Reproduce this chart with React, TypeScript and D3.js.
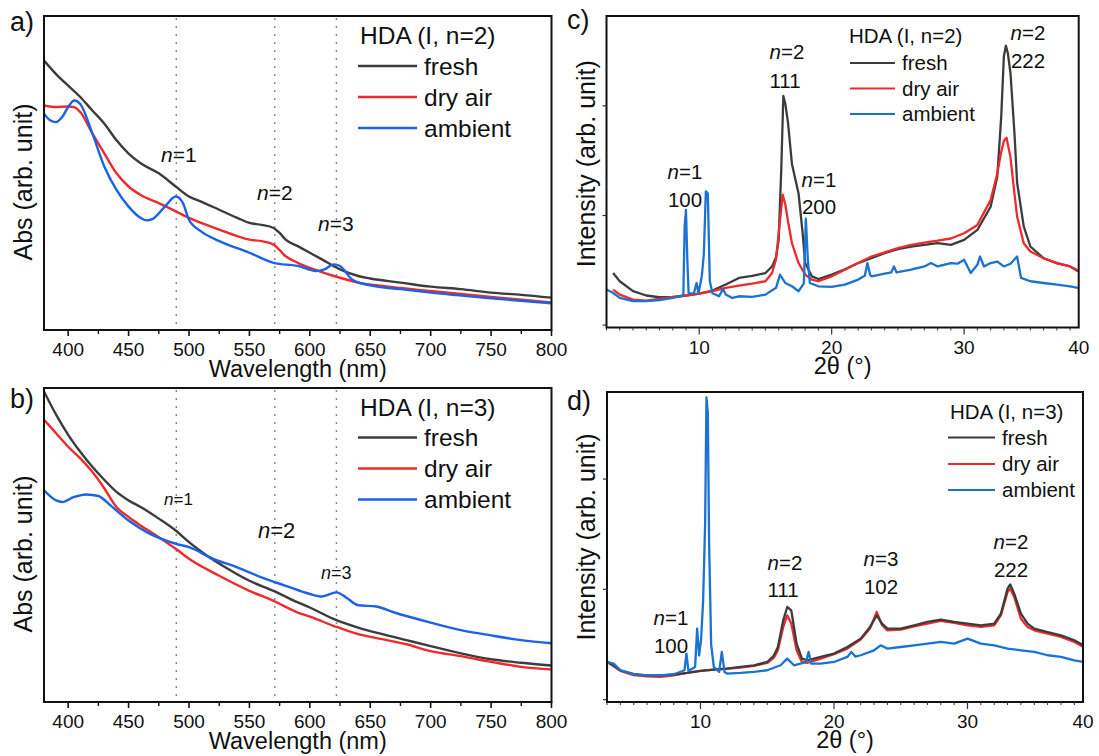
import React from 'react';
import * as d3 from 'd3';

type Pt = [number, number];

// ---------- Panel a: UV-vis, HDA (I, n=2) ----------
const aFresh: Pt[] = [[380,0.858],[390,0.815],[400,0.778],[410,0.742],[420,0.699],[430,0.657],[440,0.604],[450,0.562],[460,0.531],[475,0.499],[489,0.457],[500,0.425],[510,0.409],[525,0.383],[540,0.357],[550,0.341],[560,0.335],[570,0.325],[575,0.309],[580,0.288],[590,0.267],[600,0.246],[610,0.225],[625,0.193],[640,0.172],[650,0.164],[675,0.151],[700,0.138],[725,0.130],[750,0.119],[775,0.112],[800,0.103]];
const aDry: Pt[] = [[380,0.715],[390,0.710],[400,0.712],[405,0.710],[410,0.694],[420,0.626],[430,0.562],[440,0.499],[450,0.457],[460,0.430],[475,0.404],[489,0.378],[500,0.357],[525,0.320],[540,0.299],[550,0.288],[560,0.283],[570,0.272],[580,0.235],[590,0.214],[600,0.198],[620,0.172],[640,0.151],[660,0.140],[700,0.124],[750,0.105],[800,0.088]];
const aAmbient: Pt[] = [[380,0.689],[385,0.668],[390,0.662],[395,0.678],[400,0.710],[405,0.731],[410,0.720],[420,0.626],[430,0.520],[440,0.446],[450,0.393],[460,0.357],[465,0.349],[470,0.354],[480,0.393],[489,0.425],[495,0.404],[500,0.351],[510,0.314],[525,0.283],[550,0.246],[570,0.214],[590,0.204],[605,0.188],[612,0.193],[620,0.209],[625,0.204],[635,0.161],[650,0.142],[675,0.130],[700,0.119],[750,0.101],[800,0.085]];

// ---------- Panel b: UV-vis, HDA (I, n=3) ----------
const bFresh: Pt[] = [[380,0.989],[390,0.915],[400,0.851],[410,0.797],[420,0.749],[430,0.707],[440,0.669],[450,0.642],[460,0.621],[475,0.584],[489,0.546],[500,0.509],[515,0.466],[530,0.429],[550,0.386],[570,0.354],[590,0.317],[600,0.301],[620,0.264],[640,0.237],[660,0.216],[680,0.197],[700,0.178],[725,0.155],[750,0.136],[775,0.125],[800,0.116]];
const bDry: Pt[] = [[380,0.899],[390,0.856],[400,0.813],[410,0.776],[420,0.733],[430,0.680],[440,0.621],[450,0.589],[460,0.562],[475,0.525],[489,0.488],[500,0.456],[525,0.402],[550,0.354],[570,0.322],[590,0.285],[600,0.272],[620,0.242],[640,0.216],[660,0.200],[680,0.184],[700,0.162],[725,0.146],[750,0.128],[775,0.112],[800,0.104]];
const bAmbient: Pt[] = [[380,0.674],[390,0.642],[395,0.637],[405,0.653],[415,0.661],[425,0.656],[435,0.626],[450,0.578],[465,0.541],[489,0.504],[500,0.493],[520,0.456],[540,0.429],[560,0.397],[580,0.370],[600,0.344],[610,0.336],[622,0.349],[630,0.333],[640,0.308],[655,0.304],[670,0.285],[700,0.253],[725,0.229],[750,0.212],[775,0.197],[800,0.187]];

// ---------- Panel c: XRD, HDA (I, n=2) ----------
const cFresh: Pt[] = [[3.5,0.475],[4,0.40],[5,0.31],[6,0.27],[7,0.254],[8,0.254],[9,0.27],[10,0.287],[11,0.315],[12,0.37],[13,0.43],[14,0.45],[15,0.475],[15.5,0.535],[15.8,0.62],[16,0.78],[16.2,1.44],[16.35,2.09],[16.5,2.02],[16.7,1.85],[17,1.47],[17.5,1.20],[17.8,0.85],[18,0.566],[18.5,0.445],[19,0.42],[20,0.46],[21,0.51],[22,0.566],[23,0.61],[24,0.657],[25,0.693],[26,0.717],[27,0.732],[28,0.747],[29,0.732],[30,0.778],[31,0.868],[32,1.08],[32.5,1.35],[32.8,1.9],[33,2.45],[33.15,2.55],[33.3,2.48],[33.5,2.30],[33.8,1.75],[34,1.30],[34.5,0.90],[35,0.717],[36,0.61],[37,0.566],[38,0.535],[38.6,0.49]];
const cDry: Pt[] = [[3.5,0.324],[4,0.278],[5,0.233],[6,0.224],[7,0.24],[8,0.257],[9,0.27],[10,0.287],[11,0.309],[12,0.339],[13,0.36],[14,0.378],[15,0.40],[15.5,0.475],[15.8,0.6],[16,0.838],[16.3,1.19],[16.5,1.10],[16.7,0.95],[17,0.747],[17.5,0.566],[18,0.46],[18.5,0.415],[19,0.40],[20,0.445],[21,0.505],[22,0.566],[23,0.626],[24,0.663],[25,0.702],[26,0.732],[27,0.753],[28,0.77],[29,0.79],[30,0.838],[31,0.914],[32,1.14],[32.5,1.38],[32.8,1.58],[33,1.68],[33.2,1.71],[33.5,1.53],[33.8,1.2],[34,0.99],[34.5,0.747],[35,0.672],[36,0.61],[37,0.566],[38,0.535],[38.6,0.50]];
const cAmbient: Pt[] = [[3,0.324],[3.5,0.293],[4,0.248],[5,0.218],[6,0.218],[7,0.227],[8,0.248],[8.8,0.27],[8.9,0.9],[9.0,1.05],[9.1,0.6],[9.2,0.29],[9.6,0.29],[9.8,0.384],[9.95,0.29],[10.2,0.45],[10.35,0.65],[10.5,1.22],[10.65,1.2],[10.8,0.4],[11,0.29],[11.5,0.263],[11.8,0.33],[12,0.28],[12.5,0.248],[13,0.263],[14,0.257],[15,0.278],[15.8,0.34],[16.1,0.46],[16.5,0.384],[17,0.354],[17.5,0.309],[17.9,0.38],[18.05,0.97],[18.2,0.6],[18.35,0.384],[19,0.354],[20,0.348],[21,0.369],[22,0.415],[22.5,0.45],[22.7,0.566],[22.9,0.46],[23,0.445],[24,0.469],[24.5,0.48],[24.7,0.536],[24.9,0.48],[26,0.505],[27,0.535],[27.5,0.566],[28,0.535],[29,0.566],[29.5,0.56],[30,0.596],[30.5,0.475],[31,0.55],[31.2,0.626],[31.5,0.535],[32,0.566],[32.5,0.58],[33,0.535],[33.5,0.56],[34,0.626],[34.3,0.43],[35,0.40],[36,0.384],[37,0.369],[38,0.354],[38.6,0.339]];

// ---------- Panel d: XRD, HDA (I, n=3) ----------
const dFresh: Pt[] = [[3,0.341],[3.5,0.311],[4,0.266],[5,0.23],[6,0.22],[7,0.22],[8,0.227],[9,0.242],[10,0.26],[11,0.272],[12,0.281],[13,0.296],[14,0.311],[15,0.341],[15.5,0.40],[15.8,0.477],[16.2,0.719],[16.5,0.84],[16.8,0.81],[17.2,0.508],[17.6,0.372],[18,0.356],[19,0.387],[20,0.417],[21,0.477],[22,0.553],[22.7,0.659],[23.2,0.764],[23.6,0.689],[24,0.644],[25,0.644],[26,0.674],[27,0.704],[28,0.725],[29,0.704],[30,0.689],[31,0.674],[32,0.689],[32.5,0.779],[33,1.006],[33.2,1.045],[33.5,0.961],[34,0.779],[34.5,0.689],[35,0.644],[36,0.613],[37,0.583],[38,0.538],[38.7,0.492]];
const dDry: Pt[] = [[3,0.341],[4,0.26],[5,0.221],[6,0.211],[7,0.205],[8,0.22],[9,0.242],[10,0.26],[11,0.272],[12,0.281],[13,0.29],[14,0.305],[15,0.332],[15.5,0.38],[15.8,0.447],[16.2,0.659],[16.5,0.764],[16.8,0.689],[17.2,0.447],[17.6,0.341],[18,0.332],[19,0.372],[20,0.411],[21,0.462],[22,0.544],[22.7,0.644],[23.2,0.795],[23.6,0.674],[24,0.628],[25,0.634],[26,0.665],[27,0.689],[28,0.713],[29,0.695],[30,0.674],[31,0.659],[32,0.674],[32.5,0.764],[33,0.976],[33.2,1.006],[33.5,0.93],[34,0.734],[34.5,0.659],[35,0.628],[36,0.598],[37,0.568],[38,0.523],[38.7,0.477]];
const dAmbient: Pt[] = [[3,0.341],[3.5,0.326],[4,0.266],[5,0.23],[6,0.22],[7,0.22],[8,0.23],[8.8,0.266],[8.95,0.417],[9.1,0.26],[9.6,0.296],[9.75,0.644],[9.9,0.40],[10.05,0.55],[10.2,0.9],[10.35,1.6],[10.45,2.74],[10.55,2.6],[10.65,1.4],[10.8,0.5],[11,0.296],[11.4,0.251],[11.6,0.432],[11.8,0.251],[12,0.236],[13,0.242],[14,0.251],[15,0.266],[16,0.311],[16.5,0.372],[17,0.311],[17.9,0.34],[18.1,0.432],[18.3,0.326],[19,0.326],[20,0.341],[21,0.387],[21.3,0.432],[21.6,0.39],[22,0.402],[23,0.447],[23.5,0.492],[24,0.462],[25,0.477],[26,0.492],[27,0.508],[28,0.523],[29,0.508],[30,0.553],[31,0.508],[32,0.492],[33,0.462],[34,0.447],[35,0.432],[36,0.402],[37,0.387],[38,0.356],[38.7,0.341]];

// ---------- Axes / labels ----------
const uvMajorTicks = [400, 450, 500, 550, 600, 650, 700, 750, 800];
const uvMinorTicks = [425, 475, 525, 575, 625, 675, 725, 775];
const excitonLines = [489.5, 571, 622];
const xrdMajorTicks = [10, 20, 30, 40];
const xrdMinorTicks = [3,4,5,6,7,8,9,11,12,13,14,15,16,17,18,19,21,22,23,24,25,26,27,28,29,31,32,33,34,35,36,37,38];
const xrdYTicks = [0, 1, 2];
const seriesNames = ['fresh', 'dry air', 'ambient'];
const legendTitles = ['HDA (I, n=2)', 'HDA (I, n=3)'];

const FONT = '"Liberation Sans", Arial, Helvetica, sans-serif';
const C_FRESH = '#3c3c3c';
const C_DRY = '#ef2a2a';
const C_AMB_UV = '#1c62e6';
const C_AMB_X = '#1a72d2';

interface Frame { left: number; right: number; top: number; bottom: number }
interface Annot { n: string; sub?: string; x: number; y: number; size: number; anchor?: string }
interface Legend { titleX: number; titleY: number; rows: number[]; lx0: number; lx1: number; tx: number; size: number; title: string }

function NLabel({ a }: { a: Annot }) {
  return (
    <text x={a.x} y={a.y} fontSize={a.size} textAnchor={a.anchor || 'start'} fontFamily={FONT} fill="#111">
      <tspan fontStyle="italic">n</tspan>
      <tspan>{'=' + a.n}</tspan>
    </text>
  );
}

function LegendBlock({ lg, colors, lw }: { lg: Legend; colors: string[]; lw: number }) {
  return (
    <g fontFamily={FONT} fill="#111">
      <text x={lg.titleX} y={lg.titleY} fontSize={lg.size}>{lg.title}</text>
      {seriesNames.map((s, i) => (
        <g key={s}>
          <line x1={lg.lx0} x2={lg.lx1} y1={lg.rows[i]} y2={lg.rows[i]} stroke={colors[i]} strokeWidth={lw} />
          <text x={lg.tx} y={lg.rows[i]} dy="0.36em" fontSize={lg.size}>{s}</text>
        </g>
      ))}
    </g>
  );
}

function UVPanel({ f, id, letter, letterY, series, legend, annots, titleShift }: {
  f: Frame; id: string; letter: string; letterY: number; series: Pt[][]; legend: Legend; annots: Annot[]; titleShift: number;
}) {
  const x = d3.scaleLinear().domain([380, 800]).range([f.left, f.right]);
  const y = d3.scaleLinear().domain([0, 1]).range([f.bottom, f.top]);
  const line = d3.line<Pt>().x(d => x(d[0])).y(d => y(d[1])).curve(d3.curveMonotoneX);
  const colors = [C_FRESH, C_DRY, C_AMB_UV];
  const cy = (f.top + f.bottom) / 2 + titleShift;
  return (
    <g>
      <defs>
        <clipPath id={id}><rect x={f.left} y={f.top} width={f.right - f.left} height={f.bottom - f.top} /></clipPath>
      </defs>
      {excitonLines.map(v => (
        <line key={v} x1={x(v)} x2={x(v)} y1={f.top + 2} y2={f.bottom} stroke="#888" strokeWidth={1.4} strokeDasharray="2 6" />
      ))}
      <g clipPath={`url(#${id})`}>
        {series.map((s, i) => (
          <path key={i} d={line(s) || ''} fill="none" stroke={colors[i]} strokeWidth={2.4} strokeLinejoin="round" />
        ))}
      </g>
      <rect x={f.left} y={f.top} width={f.right - f.left} height={f.bottom - f.top} fill="none" stroke="#111" strokeWidth={2} />
      {uvMajorTicks.map(t => (
        <g key={t}>
          <line x1={x(t)} x2={x(t)} y1={f.bottom} y2={f.bottom + 6} stroke="#111" strokeWidth={1.6} />
          <text x={x(t)} y={f.bottom + 26} textAnchor="middle" fontSize={19} fontFamily={FONT} fill="#111">{t}</text>
        </g>
      ))}
      {uvMinorTicks.map(t => (
        <line key={t} x1={x(t)} x2={x(t)} y1={f.bottom} y2={f.bottom + 4} stroke="#111" strokeWidth={1.4} />
      ))}
      <text x={(f.left + f.right) / 2} y={f.bottom + 47} textAnchor="middle" fontSize={23.5} fontFamily={FONT} fill="#111">Wavelength (nm)</text>
      <text transform={`translate(32,${cy}) rotate(-90)`} textAnchor="middle" fontSize={25} fontFamily={FONT} fill="#111">Abs (arb. unit)</text>
      <text x={10} y={letterY} fontSize={27} fontFamily={FONT} fill="#111">{letter}</text>
      <LegendBlock lg={legend} colors={colors} lw={2.5} />
      {annots.map((a, i) => <NLabel key={i} a={a} />)}
    </g>
  );
}

function XRDPanel({ f, id, letter, letterY, series, order, yTop, legend, annots, titleShift }: {
  f: Frame; id: string; letter: string; letterY: number; series: Pt[][]; order: number[]; yTop: number; legend: Legend; annots: Annot[]; titleShift: number;
}) {
  const x = d3.scaleLinear().domain([3, 38.65]).range([f.left, f.right]);
  const xl = d3.scaleLinear().domain([3, 38.65]).range([f.left, f.right]).clamp(true);
  const y = d3.scaleLinear().domain([-0.022, yTop]).range([f.bottom, f.top]);
  const line = d3.line<Pt>().x(d => x(d[0])).y(d => y(d[1])).curve(d3.curveLinear);
  const colors = [C_FRESH, C_DRY, C_AMB_X];
  const cy = (f.top + f.bottom) / 2 + titleShift;
  return (
    <g>
      <defs>
        <clipPath id={id}><rect x={f.left} y={f.top} width={f.right - f.left} height={f.bottom - f.top} /></clipPath>
      </defs>
      <g clipPath={`url(#${id})`}>
        {order.map(i => (
          <path key={i} d={line(series[i]) || ''} fill="none" stroke={colors[i]} strokeWidth={2.3} strokeLinejoin="round" />
        ))}
      </g>
      <rect x={f.left} y={f.top} width={f.right - f.left} height={f.bottom - f.top} fill="none" stroke="#111" strokeWidth={2} />
      {xrdMinorTicks.map(t => (
        <line key={t} x1={x(t)} x2={x(t)} y1={f.bottom} y2={f.bottom + 3} stroke="#333" strokeWidth={1} />
      ))}
      {xrdMajorTicks.map(t => (
        <g key={t}>
          {t < 38.65 && <line x1={x(t)} x2={x(t)} y1={f.bottom} y2={f.bottom + 7} stroke="#333" strokeWidth={1.2} />}
          <text x={xl(t)} y={f.bottom + 26} textAnchor="middle" fontSize={19} fontFamily={FONT} fill="#111">{t}</text>
        </g>
      ))}
      {xrdYTicks.map(t => (
        <line key={t} x1={f.left - 4} x2={f.left} y1={y(t)} y2={y(t)} stroke="#333" strokeWidth={1.2} />
      ))}
      <text x={(f.left + f.right) / 2} y={f.bottom + 46} textAnchor="middle" fontSize={23.5} fontFamily={FONT} fill="#111">2θ (°)</text>
      <text transform={`translate(595,${cy}) rotate(-90)`} textAnchor="middle" fontSize={25} fontFamily={FONT} fill="#111">Intensity (arb. unit)</text>
      <text x={567} y={letterY} fontSize={27} fontFamily={FONT} fill="#111">{letter}</text>
      <LegendBlock lg={legend} colors={colors} lw={2.2} />
      {annots.map((a, i) => (
        a.sub !== undefined
          ? <text key={i} x={a.x} y={a.y} fontSize={a.size} textAnchor="middle" fontFamily={FONT} fill="#111">{a.sub}</text>
          : <NLabel key={i} a={a} />
      ))}
    </g>
  );
}

export default function App() {
  const fa: Frame = { left: 44, right: 551.5, top: 16, bottom: 330 };
  const fb: Frame = { left: 44, right: 551.5, top: 388, bottom: 702 };
  const fc: Frame = { left: 606.5, right: 1078.7, top: 16, bottom: 327.5 };
  const fd: Frame = { left: 607, right: 1083, top: 392, bottom: 702 };

  const lgA: Legend = { title: legendTitles[0], titleX: 360, titleY: 44, rows: [66, 97, 128], lx0: 358, lx1: 417, tx: 424, size: 24.5 };
  const lgB: Legend = { title: legendTitles[1], titleX: 360, titleY: 416, rows: [437.5, 468.5, 499.5], lx0: 358, lx1: 417, tx: 424, size: 24.5 };
  const lgC: Legend = { title: legendTitles[0], titleX: 849, titleY: 43, rows: [63, 88.5, 114], lx0: 850, lx1: 895, tx: 902, size: 20.5 };
  const lgD: Legend = { title: legendTitles[1], titleX: 950, titleY: 419, rows: [437.5, 464, 490], lx0: 948, lx1: 995, tx: 1002, size: 20.5 };

  const anA: Annot[] = [
    { n: '1', x: 161, y: 162, size: 21 },
    { n: '2', x: 257, y: 200, size: 21 },
    { n: '3', x: 318, y: 231, size: 21 },
  ];
  const anB: Annot[] = [
    { n: '1', x: 164, y: 505, size: 17 },
    { n: '2', x: 258, y: 538, size: 22 },
    { n: '3', x: 321, y: 579, size: 18 },
  ];
  const anC: Annot[] = [
    { n: '1', x: 685, y: 179, size: 20.5, anchor: 'middle' },
    { n: '', sub: '100', x: 685, y: 207, size: 20.5 },
    { n: '2', x: 787, y: 59, size: 20.5, anchor: 'middle' },
    { n: '', sub: '111', x: 785, y: 88, size: 20.5 },
    { n: '1', x: 819, y: 187, size: 20.5, anchor: 'middle' },
    { n: '', sub: '200', x: 819, y: 214, size: 20.5 },
    { n: '2', x: 1028, y: 40, size: 20.5, anchor: 'middle' },
    { n: '', sub: '222', x: 1028, y: 68, size: 20.5 },
  ];
  const anD: Annot[] = [
    { n: '1', x: 671, y: 625, size: 20.5, anchor: 'middle' },
    { n: '', sub: '100', x: 671, y: 653, size: 20.5 },
    { n: '2', x: 785, y: 570, size: 20.5, anchor: 'middle' },
    { n: '', sub: '111', x: 783, y: 597, size: 20.5 },
    { n: '3', x: 881, y: 566, size: 20.5, anchor: 'middle' },
    { n: '', sub: '102', x: 881, y: 594, size: 20.5 },
    { n: '2', x: 1011, y: 549, size: 20.5, anchor: 'middle' },
    { n: '', sub: '222', x: 1011, y: 577, size: 20.5 },
  ];

  return (
    <svg width={1099} height={756} style={{ position: 'absolute', left: 0, top: 0, background: '#fff' }}>
      <rect x={0} y={0} width={1099} height={756} fill="#fff" />
      <UVPanel f={fa} id="clipA" letter="a)" letterY={31} series={[aFresh, aDry, aAmbient]} legend={lgA} annots={anA} titleShift={9} />
      <UVPanel f={fb} id="clipB" letter="b)" letterY={408} series={[bFresh, bDry, bAmbient]} legend={lgB} annots={anB} titleShift={9} />
      <XRDPanel f={fc} id="clipC" letter="c)" letterY={29} series={[cFresh, cDry, cAmbient]} order={[0, 1, 2]} yTop={2.82} legend={lgC} annots={anC} titleShift={-8} />
      <XRDPanel f={fd} id="clipD" letter="d)" letterY={410} series={[dFresh, dDry, dAmbient]} order={[1, 0, 2]} yTop={2.79} legend={lgD} annots={anD} titleShift={-10} />
    </svg>
  );
}
